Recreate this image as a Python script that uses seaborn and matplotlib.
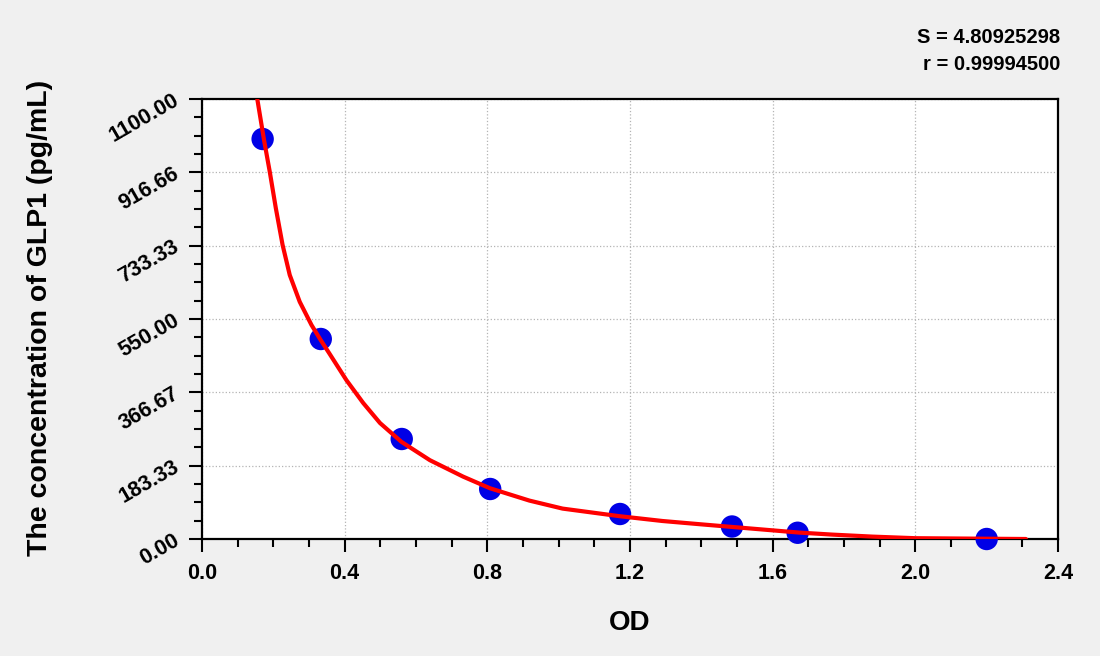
import numpy as np
import pandas as pd
import matplotlib
matplotlib.use("Agg")
import matplotlib.pyplot as plt
from matplotlib.ticker import FixedLocator, MultipleLocator
import seaborn as sns

# Standard points
od_points = [0.170, 0.333, 0.560, 0.808, 1.172, 1.486, 1.670, 2.200]
conc_points = [1000.0, 500.0, 250.0, 125.0, 62.5, 31.25, 15.6, 0.0]

# Fitted curve
curve_od = [0.155, 0.174, 0.190, 0.207, 0.226, 0.246, 0.274, 0.307, 0.333, 0.357,
            0.405, 0.452, 0.499, 0.559, 0.639, 0.732, 0.807, 0.918, 1.011, 1.171,
            1.291, 1.395, 1.488, 1.675, 1.767, 1.879, 2.000, 2.310]
curve_conc = [1100, 997, 918, 827, 735, 660, 593, 535, 497, 464,
              397, 340, 290, 243, 197, 156, 127, 96, 76, 57,
              45, 37, 30, 16, 11, 6, 2, 0]

y_ticks = [0.0, 183.33, 366.67, 550.0, 733.33, 916.66, 1100.0]
y_tick_labels = ["0.00", "183.33", "366.67", "550.00", "733.33", "916.66", "1100.00"]
x_ticks = [0.0, 0.4, 0.8, 1.2, 1.6, 2.0, 2.4]
x_tick_labels = ["0.0", "0.4", "0.8", "1.2", "1.6", "2.0", "2.4"]

stats_lines = ["S = 4.80925298", "r = 0.99994500"]

sns.set_theme(style="white")
plt.rcParams["font.family"] = ["Liberation Sans", "DejaVu Sans"]
plt.rcParams["font.weight"] = "bold"
for k in ["text.color", "axes.labelcolor", "xtick.color", "ytick.color"]:
    plt.rcParams[k] = "black"

fig = plt.figure(figsize=(11, 6.56), dpi=100, facecolor="#f0f0f0")
ax = fig.add_axes([202/1100, 1-539/656, (1058-202)/1100, (539-99)/656])
ax.set_facecolor("white")

curve_df = pd.DataFrame({"od": curve_od, "conc": curve_conc})
pts_df = pd.DataFrame({"od": od_points, "conc": conc_points})

sns.scatterplot(data=pts_df, x="od", y="conc", color="#0000e6", s=260,
                edgecolor="none", ax=ax, zorder=3, clip_on=False)
sns.lineplot(data=curve_df, x="od", y="conc", sort=False, estimator=None,
             color="#ff0000", linewidth=3.0, ax=ax, zorder=4)

ax.set_xlim(0, 2.4)
ax.set_ylim(0, 1100)
ax.xaxis.set_major_locator(FixedLocator(x_ticks))
ax.yaxis.set_major_locator(FixedLocator(y_ticks))
ax.xaxis.set_minor_locator(MultipleLocator(0.1))
ax.yaxis.set_minor_locator(MultipleLocator(1100/24))
ax.set_xticklabels(x_tick_labels, fontsize=15.5, fontweight="bold", color="black")
ax.set_yticklabels(y_tick_labels, fontsize=15.5, fontweight="bold", color="black",
                   rotation=30, ha="right", va="center", rotation_mode="anchor")

ax.tick_params(axis="both", which="major", direction="out", length=9.5, width=1.5,
               color="black", pad=8, bottom=True, left=True)
ax.tick_params(axis="both", which="minor", direction="out", length=6, width=1.5,
               color="black", bottom=True, left=True)

for sp in ax.spines.values():
    sp.set_color("black")
    sp.set_linewidth(1.6)

ax.grid(True, which="major", linestyle=":", color="#b4b4b4", linewidth=0.9)
ax.set_axisbelow(True)

ax.set_xlabel("")
ax.set_ylabel("")
fig.text(630/1100, 1-623/656, "OD", ha="center", va="center",
         fontsize=20, fontweight="bold", color="black")
fig.text(40/1100, 1-318/656, "The concentration of GLP1 (pg/mL)", ha="center",
         va="center", rotation=90, fontsize=20.5, fontweight="bold", color="black")

fig.text(1060/1100, 1-43/656, stats_lines[0], ha="right", va="baseline",
         fontsize=14.5, fontweight="bold", color="black")
fig.text(1060/1100, 1-70/656, stats_lines[1], ha="right", va="baseline",
         fontsize=14.5, fontweight="bold", color="black")

fig.savefig("out.png", dpi=100, facecolor=fig.get_facecolor())
